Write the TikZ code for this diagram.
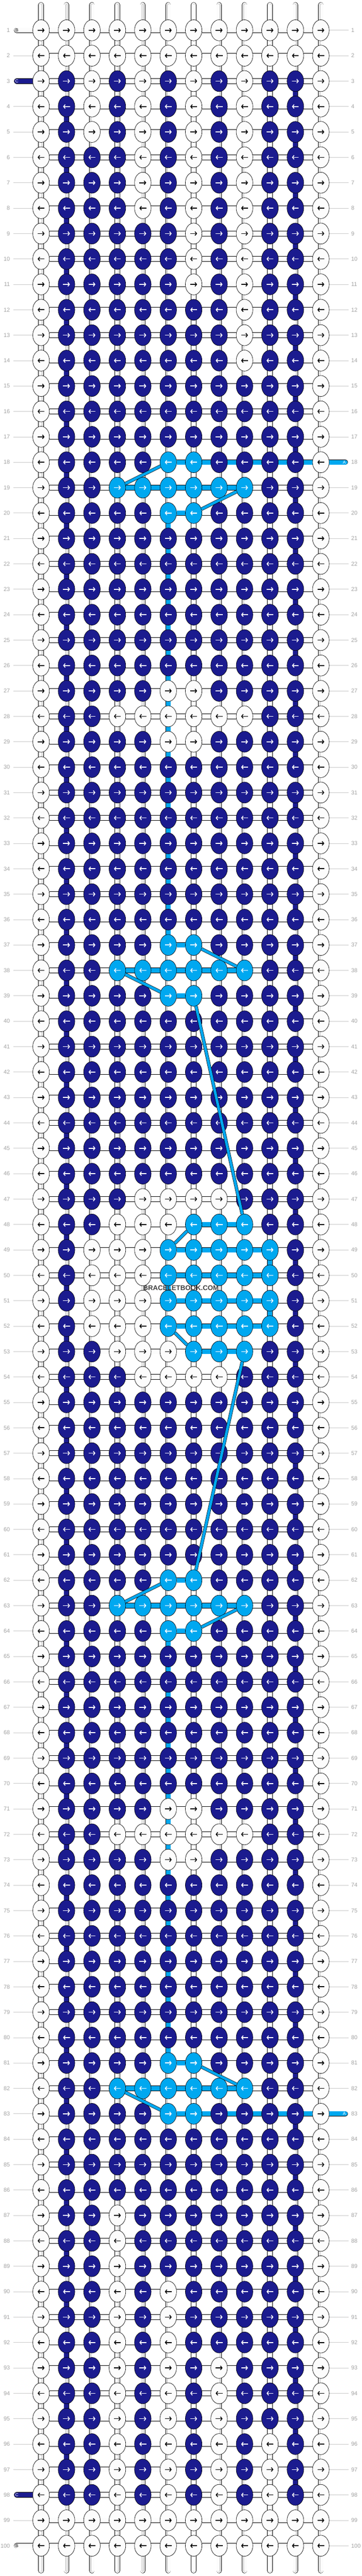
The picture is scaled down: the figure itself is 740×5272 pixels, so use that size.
\documentclass[tikz,border=0pt]{standalone}
\usepackage{fontspec}
\setmainfont{Liberation Sans}
\usetikzlibrary{shapes.geometric,arrows.meta}

% knot colours (one letter per thread colour)
\definecolor{W}{HTML}{FCFCFC}
\definecolor{D}{HTML}{1B1B8F}
\definecolor{L}{HTML}{00A8F0}
\colorlet{arrW}{black}
\colorlet{arrD}{white}
\colorlet{arrL}{white}
\definecolor{labgray}{HTML}{A0A0A0}
\definecolor{linegray}{HTML}{C8C8C8}
\definecolor{coregray}{HTML}{B4B4B4}

\pgfdeclarelayer{tubes}
\pgfsetlayers{tubes,main}

% row patterns, column 1 to 12
\def\patA{W,W,W,W,W,W,W,W,W,W,W,W}
\def\patB{W,D,W,D,W,D,W,D,W,D,D,W}
\def\patC{W,D,D,D,W,D,W,D,W,D,D,W}
\def\patE{W,D,D,D,D,D,W,D,W,D,D,W}
\def\patG{W,D,D,D,D,D,D,D,W,D,D,W}
\def\patF{W,D,D,D,D,D,D,D,D,D,D,W}
\def\patH{W,D,D,D,D,L,L,D,D,D,D,W}
\def\patI{W,D,D,L,L,L,L,L,L,D,D,W}
\def\patJ{W,D,D,D,D,W,W,D,D,D,D,W}
\def\patK{W,D,D,W,W,W,W,W,W,D,D,W}
\def\patM{W,D,D,D,W,W,W,W,D,D,D,W}
\def\patN{W,D,D,W,W,W,L,L,L,D,D,W}
\def\patO{W,D,W,W,W,L,L,L,L,L,D,W}
\def\patP{W,D,D,W,D,D,D,D,D,D,D,W}
\def\patQ{W,D,D,W,D,W,D,D,D,D,D,W}
\def\patR{W,D,D,W,D,W,D,W,D,D,D,W}
\def\patS{W,D,D,W,D,W,D,W,D,W,D,W}

\begin{document}
\begin{tikzpicture}[x=1pt,y=-1pt,
    knot/.style={ellipse, draw=black, line width=0.7pt, minimum width=34pt, minimum height=43pt, inner sep=0pt},
    knotarrow/.style={line width=1.7pt, -{Straight Barb[length=3.2pt,width=8pt]}},
    strand/.style={draw=black, line width=0.7pt, double=W, double distance=9.5pt, line cap=round},
    strandcore/.style={draw=coregray, line width=0.5pt, double=W, double distance=3pt, line cap=round},
    htube/.style={draw=black, line width=0.7pt, double=#1, double distance=9.5pt},
    vtube/.style={draw=black, line width=0.7pt, double=#1, double distance=9.5pt, shorten <=-3pt, shorten >=-3pt},
    tab/.style={draw=black, line width=0.7pt, double=#1, double distance=9.5pt, line cap=round},
    tabletter/.style={font=\fontsize{9}{9}\selectfont, inner sep=0pt},
    diag/.style={draw=black, line width=0.7pt, double=L, double distance=5.5pt},
    rowlab/.style={font=\fontsize{11.5}{12}\selectfont, text=labgray, inner sep=0pt},
    rowline/.style={draw=linegray, line width=0.8pt}]
  \useasboundingbox (0,0) rectangle (740,5272);

  % Draw the knots
  \foreach \r/\ty in {1/A,2/A,3/B,4/B,5/B,6/C,7/C,8/C,9/E,10/E,11/E,12/G,13/G,14/G,15/F,16/F,17/F,18/H,19/I,20/H,
      21/F,22/F,23/F,24/F,25/F,26/F,27/J,28/K,29/J,30/F,31/F,32/F,33/F,34/F,35/F,36/F,37/H,38/I,39/H,40/F,
      41/F,42/F,43/F,44/F,45/F,46/F,47/M,48/N,49/O,50/O,51/O,52/O,53/N,54/M,55/F,56/F,57/F,58/F,59/F,60/F,
      61/F,62/H,63/I,64/H,65/F,66/F,67/F,68/F,69/F,70/F,71/J,72/K,73/J,74/F,75/F,76/F,77/F,78/F,79/F,80/F,
      81/H,82/I,83/H,84/F,85/F,86/F,87/P,88/P,89/P,90/Q,91/Q,92/Q,93/R,94/R,95/R,96/S,97/S,98/S,99/A,100/A}{
    \edef\pat{\csname pat\ty\endcsname}
    \foreach \k [count=\c] in \pat {
      \node[knot, fill=\k] (k-\r-\c) at ({84+(\c-1)*52},{62+(\r-1)*52}) {};
      \ifodd\r
        \draw[knotarrow, draw=arr\k] ([xshift=-7pt]k-\r-\c.center) -- ([xshift=7pt]k-\r-\c.center);
      \else
        \draw[knotarrow, draw=arr\k] ([xshift=7pt]k-\r-\c.center) -- ([xshift=-7pt]k-\r-\c.center);
      \fi
    }
  }

  \begin{pgfonlayer}{tubes}
    % vertical strands, top to bottom
    \foreach \c in {1,...,12}{
      \coordinate (top-\c) at ({84+(\c-1)*52},10);
      \coordinate (bot-\c) at ({84+(\c-1)*52},5261);
      \draw[strand] (top-\c) -- (bot-\c);
      \draw[strandcore] (top-\c) -- (bot-\c);
    }
    % horizontal threads
    \foreach \r in {1,...,100}
      \draw[htube=W] (k-\r-1) -- (k-\r-12);
    \foreach \r/\a/\b in {18/6/12,19/4/9,20/6/7,37/6/7,38/4/9,39/6/7,48/7/9,49/6/10,50/6/10,51/6/10,
        52/6/10,53/7/9,62/6/7,63/4/9,64/6/7,81/6/7,82/4/9,83/6/12}
      \draw[htube=L] (k-\r-\a) -- (k-\r-\b);
    % thread C carried down the sides
    \foreach \r [evaluate=\r as \rn using int(\r+1)] in {3,5,...,97}
      \draw[vtube=D] (k-\r-11) -- (k-\rn-11);
    \foreach \r [evaluate=\r as \rn using int(\r+1)] in {4,6,...,96}
      \draw[vtube=D] (k-\r-2) -- (k-\rn-2);
    % thread A carried down
    \foreach \r/\c [evaluate=\r as \rn using int(\r+1)] in {20/6,21/6,22/6,23/6,24/6,25/6,26/6,27/6,28/6,29/6,
        30/6,31/6,32/6,33/6,34/6,35/6,36/6,49/10,50/6,51/10,64/6,65/6,66/6,67/6,68/6,69/6,70/6,71/6,72/6,
        73/6,74/6,75/6,76/6,77/6,78/6,79/6,80/6}
      \draw[vtube=L] (k-\r-\c) -- (k-\rn-\c);

    % row numbers with their lines
    \foreach \r in {1,...,100}{
      \pgfmathtruncatemacro\yy{62+(\r-1)*52}
      \node[rowlab, anchor=east] (ll-\r) at (20.5,\yy) {\r};
      \node[rowlab, anchor=west] (rl-\r) at (718,\yy) {\r};
      \coordinate (lp-\r) at (27,\yy);
      \coordinate (rp-\r) at (713,\yy);
      \pgfmathtruncatemacro\lefttab{(\r==1)||(\r==3)||(\r==98)||(\r==100)}
      \pgfmathtruncatemacro\righttab{(\r==18)||(\r==83)}
      \ifnum\lefttab=0 \draw[rowline] (lp-\r) -- (k-\r-1); \fi
      \ifnum\righttab=0 \draw[rowline] (k-\r-12) -- (rp-\r); \fi
    }

    % thread ends
    \foreach \r/\col/\txt/\ink in {1/W/B/black,3/D/C/white,98/D/C/white,100/W/B/black}{
      \coordinate (tl-\r) at (34,{62+(\r-1)*52});
      \draw[tab=\col] (tl-\r) -- (k-\r-1);
    }
    \foreach \r in {18,83}{
      \coordinate (tr-\r) at (706,{62+(\r-1)*52});
      \draw[tab=L] (k-\r-12) -- (tr-\r);
    }
  \end{pgfonlayer}

  % letters on the thread ends
  \foreach \r/\txt/\ink in {1/B/black,3/C/white,98/C/white,100/B/black}
    \node[tabletter, text=\ink] (tlab-\r) at (34.5,{62+(\r-1)*52}) {\txt};
  \foreach \r in {18,83}
    \node[tabletter, text=white] (trlab-\r) at (704,{62+(\r-1)*52}) {A};

  % thread A jumping between rows
  \foreach \ra/\ca/\rb/\cb in {18/6/19/4,19/9/20/7,37/7/38/9,38/4/39/6,39/7/48/9,48/7/49/6,
      52/6/53/7,53/9/62/7,62/6/63/4,63/9/64/7,81/7/82/9,82/4/83/6}
    \draw[diag] (k-\ra-\ca) -- (k-\rb-\cb);

  \node[font=\bfseries\fontsize{14}{14}\selectfont, text=black!75] (mark) at (370,2636) {BRACELETBOOK.COM};
\end{tikzpicture}
\end{document}
